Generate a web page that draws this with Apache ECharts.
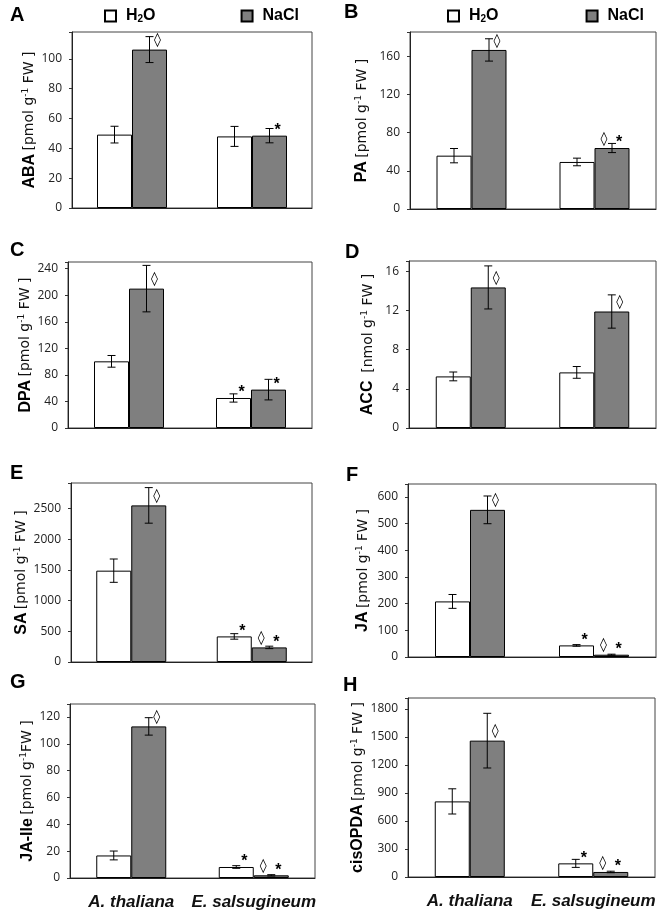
<!DOCTYPE html>
<html><head><meta charset="utf-8">
<script src="https://cdn.jsdelivr.net/npm/echarts@6/dist/echarts.min.js"></script>
<style>html,body{margin:0;padding:0;background:#fff}#c{width:666px;height:920px}</style>
</head><body><div id="c"></div>
<script>
// ---------- DATA ----------
const categories = ['A. thaliana', 'E. salsugineum'];
const seriesNames = ['H2O', 'NaCl'];
const panelLetters = ['A', 'B', 'C', 'D', 'E', 'F', 'G', 'H'];
const hormoneNames = ['ABA', 'PA', 'DPA', 'ACC', 'SA', 'JA', 'JA-Ile', 'cisOPDA'];
const unitBefore = ['[pmol g', '[pmol g', '[pmol g', ' [nmol g', '[pmol g', '[pmol g', '[pmol g', '[pmol g'];
const unitAfter = [' FW ]', ' FW ]', ' FW ]', ' FW ]', ' FW ]', ' FW ]', 'FW ]', ' FW ]'];
const yMax = [118, 185.5, 250, 17.06, 2918, 649, 129.7, 1918];
const yInterval = [20, 40, 40, 4, 500, 100, 20, 300];

// means / errors: [A. thaliana, E. salsugineum]
const abaH2O = [49.2, 48.0],  abaH2OErr = [5.6, 6.7],  abaNaCl = [106.2, 48.5], abaNaClErr = [8.7, 4.8];
const paH2O = [55.9, 49.3],   paH2OErr = [7.5, 4.0],   paNaCl = [166.7, 63.9],  paNaClErr = [11.7, 4.8];
const dpaH2O = [100.4, 45.2], dpaH2OErr = [8.8, 6.2],  dpaNaCl = [209.9, 57.8], dpaNaClErr = [35, 15.5];
const accH2O = [5.27, 5.68],  accH2OErr = [0.45, 0.6], accNaCl = [14.36, 11.9], accNaClErr = [2.2, 1.7];
const saH2O = [1489, 417],    saH2OErr = [190, 45],    saNaCl = [2553, 238],    saNaClErr = [290, 20];
const jaH2O = [208.5, 43.5],  jaH2OErr = [26, 3],      jaNaCl = [552, 8.6],     jaNaClErr = [52, 2];
const jaileH2O = [16.8, 8.2], jaileH2OErr = [3.3, 1],  jaileNaCl = [113, 2.0],  jaileNaClErr = [6.5, 0.5];
const opdaH2O = [810, 146],   opdaH2OErr = [135, 43],  opdaNaCl = [1461, 54],   opdaNaClErr = [293, 8];

// significance marks
const abaH2OMarks = [[], []],      abaNaClMarks = [['◊'], ['*']];
const paH2OMarks = [[], []],       paNaClMarks = [['◊'], ['◊', '*']];
const dpaH2OMarks = [[], ['*']],   dpaNaClMarks = [['◊'], ['*']];
const accH2OMarks = [[], []],      accNaClMarks = [['◊'], ['◊']];
const saH2OMarks = [[], ['*']],    saNaClMarks = [['◊'], ['◊', '*']];
const jaH2OMarks = [[], ['*']],    jaNaClMarks = [['◊'], ['◊', '*']];
const jaileH2OMarks = [[], ['*']], jaileNaClMarks = [['◊'], ['◊', '*']];
const opdaH2OMarks = [[], ['*']],  opdaNaClMarks = [['◊'], ['◊', '*']];

const h2oMeans = [abaH2O, paH2O, dpaH2O, accH2O, saH2O, jaH2O, jaileH2O, opdaH2O];
const h2oErrs = [abaH2OErr, paH2OErr, dpaH2OErr, accH2OErr, saH2OErr, jaH2OErr, jaileH2OErr, opdaH2OErr];
const naclMeans = [abaNaCl, paNaCl, dpaNaCl, accNaCl, saNaCl, jaNaCl, jaileNaCl, opdaNaCl];
const naclErrs = [abaNaClErr, paNaClErr, dpaNaClErr, accNaClErr, saNaClErr, jaNaClErr, jaileNaClErr, opdaNaClErr];
const h2oMarks = [abaH2OMarks, paH2OMarks, dpaH2OMarks, accH2OMarks, saH2OMarks, jaH2OMarks, jaileH2OMarks, opdaH2OMarks];
const naclMarks = [abaNaClMarks, paNaClMarks, dpaNaClMarks, accNaClMarks, saNaClMarks, jaNaClMarks, jaileNaClMarks, opdaNaClMarks];

// ---------- LAYOUT ----------
const grids = [
  {left: 72, top: 32, width: 240, height: 176},
  {left: 410, top: 32, width: 246, height: 177},
  {left: 68, top: 262, width: 244, height: 166},
  {left: 409, top: 261, width: 247, height: 167},
  {left: 71, top: 483, width: 241, height: 179},
  {left: 408, top: 484, width: 248, height: 173},
  {left: 70, top: 704, width: 245, height: 174},
  {left: 408, top: 698, width: 247, height: 179}
];
const nameGaps = [34, 40, 33, 33, 39, 37, 34, 42];
const letterPos = [[10, 5], [344, 2], [10, 240], [345, 242], [10, 463], [346, 465], [10, 672], [343, 675]];
const BAR_W = 35;

function makeErrorRenderer(offset, marks) {
  return function (params, api) {
    const cat = api.value(0), mean = api.value(1), err = api.value(2);
    const base = api.coord([cat, mean]);
    const x = base[0] + offset;
    const yTop = api.coord([cat, mean + err])[1];
    const yBot = api.coord([cat, Math.max(mean - err, 0)])[1];
    const cap = 4;
    const st = {stroke: '#000', lineWidth: 1};
    const children = [
      {type: 'line', shape: {x1: x, y1: yTop, x2: x, y2: yBot}, style: st},
      {type: 'line', shape: {x1: x - cap, y1: yTop, x2: x + cap, y2: yTop}, style: st},
      {type: 'line', shape: {x1: x - cap, y1: yBot, x2: x + cap, y2: yBot}, style: st}
    ];
    const m = marks[params.dataIndex] || [];
    const xs = m.length > 1 ? [x - 8, x + 7] : [x + 8];
    m.forEach(function (sym, k) {
      const isStar = sym === '*';
      children.push({
        type: 'text', x: xs[k], y: base[1] - (isStar ? 5 : 9),
        style: {
          text: sym, fill: '#000', align: 'center', verticalAlign: 'middle',
          font: isStar ? 'bold 16px "Liberation Sans"' : '14px "DejaVu Sans"'
        }
      });
    });
    return {type: 'group', children: children};
  };
}

const option = {
  animation: false,
  backgroundColor: '#fff',
  title: panelLetters.map(function (t, i) {
    return {text: t, left: letterPos[i][0], top: letterPos[i][1], padding: 0,
      textStyle: {fontSize: 20, fontWeight: 'bold', fontFamily: 'Liberation Sans', color: '#000'}};
  }),
  legend: [
    {left: 104, top: 8, itemGap: 85},
    {left: 447, top: 8, itemGap: 87}
  ].map(function (l) {
    return Object.assign({
      data: seriesNames, icon: 'rect', itemWidth: 11, itemHeight: 11, selectedMode: false, padding: 0,
      formatter: function (n) { return n === 'H2O' ? '{b|H}{s|2}{b|O}' : '{b|NaCl}'; },
      textStyle: {
        padding: [0, 0, 0, 5],
        rich: {
          b: {fontSize: 16, fontWeight: 'bold', fontFamily: 'Liberation Sans', color: '#000'},
          s: {fontSize: 10, fontWeight: 'bold', fontFamily: 'Liberation Sans', color: '#000', verticalAlign: 'bottom', padding: [6, 0, 0, 0]}
        }
      }
    }, l);
  }),
  grid: grids.map(function (g) {
    return Object.assign({show: true, borderColor: '#444', borderWidth: 1, backgroundColor: 'transparent'}, g);
  }),
  xAxis: grids.map(function (g, i) {
    return {
      type: 'category', gridIndex: i, data: categories,
      axisLine: {lineStyle: {color: '#222', width: 1}},
      axisTick: {show: false},
      axisLabel: {
        show: i >= 6, interval: 0, margin: 16, fontSize: 17, fontStyle: 'italic', fontWeight: 'bold',
        fontFamily: 'Liberation Sans', color: '#111'
      },
      splitLine: {show: false}
    };
  }),
  yAxis: grids.map(function (g, i) {
    const iv = yInterval[i];
    return {
      type: 'value', gridIndex: i, min: 0, max: yMax[i], interval: iv,
      axisLine: {show: true, lineStyle: {color: '#222', width: 1}},
      axisTick: {show: true, length: 3, lineStyle: {color: '#333'}},
      splitLine: {show: false},
      axisLabel: {
        margin: 10, fontSize: 12, fontFamily: 'Open Sans', color: '#222',
        formatter: function (v) { return Math.abs(v / iv - Math.round(v / iv)) < 1e-6 ? String(Math.round(v * 100) / 100) : ''; }
      },
      name: '{b|' + hormoneNames[i] + '} {n|' + unitBefore[i] + '}{s|-1}{n|' + unitAfter[i] + '}',
      nameLocation: 'middle', nameGap: nameGaps[i], nameRotate: 90,
      nameTextStyle: {
        rich: {
          b: {fontSize: 16, fontWeight: 'bold', fontFamily: 'Liberation Sans', color: '#000'},
          n: {fontSize: 14, fontFamily: 'DejaVu Sans', color: '#111'},
          s: {fontSize: 9, fontFamily: 'DejaVu Sans', color: '#111', verticalAlign: 'top'}
        }
      }
    };
  }),
  series: []
};

grids.forEach(function (g, i) {
  option.series.push({
    type: 'bar', name: 'H2O', xAxisIndex: i, yAxisIndex: i, data: h2oMeans[i],
    barWidth: BAR_W, barGap: '0%',
    itemStyle: {color: '#ffffff', borderColor: '#000', borderWidth: 1}
  });
  option.series.push({
    type: 'bar', name: 'NaCl', xAxisIndex: i, yAxisIndex: i, data: naclMeans[i],
    barWidth: BAR_W, barGap: '0%',
    itemStyle: {color: '#7f7f7f', borderColor: '#000', borderWidth: 1}
  });
  option.series.push({
    type: 'custom', name: 'errH2O' + i, xAxisIndex: i, yAxisIndex: i, z: 5, silent: true,
    encode: {x: 0, y: 1},
    data: h2oMeans[i].map(function (v, k) { return [k, v, h2oErrs[i][k]]; }),
    renderItem: makeErrorRenderer(-BAR_W / 2, h2oMarks[i])
  });
  option.series.push({
    type: 'custom', name: 'errNaCl' + i, xAxisIndex: i, yAxisIndex: i, z: 5, silent: true,
    encode: {x: 0, y: 1},
    data: naclMeans[i].map(function (v, k) { return [k, v, naclErrs[i][k]]; }),
    renderItem: makeErrorRenderer(BAR_W / 2, naclMarks[i])
  });
});

const chart = echarts.init(document.getElementById('c'), null, {renderer: 'canvas'});
chart.setOption(option);
</script>
</body></html>
